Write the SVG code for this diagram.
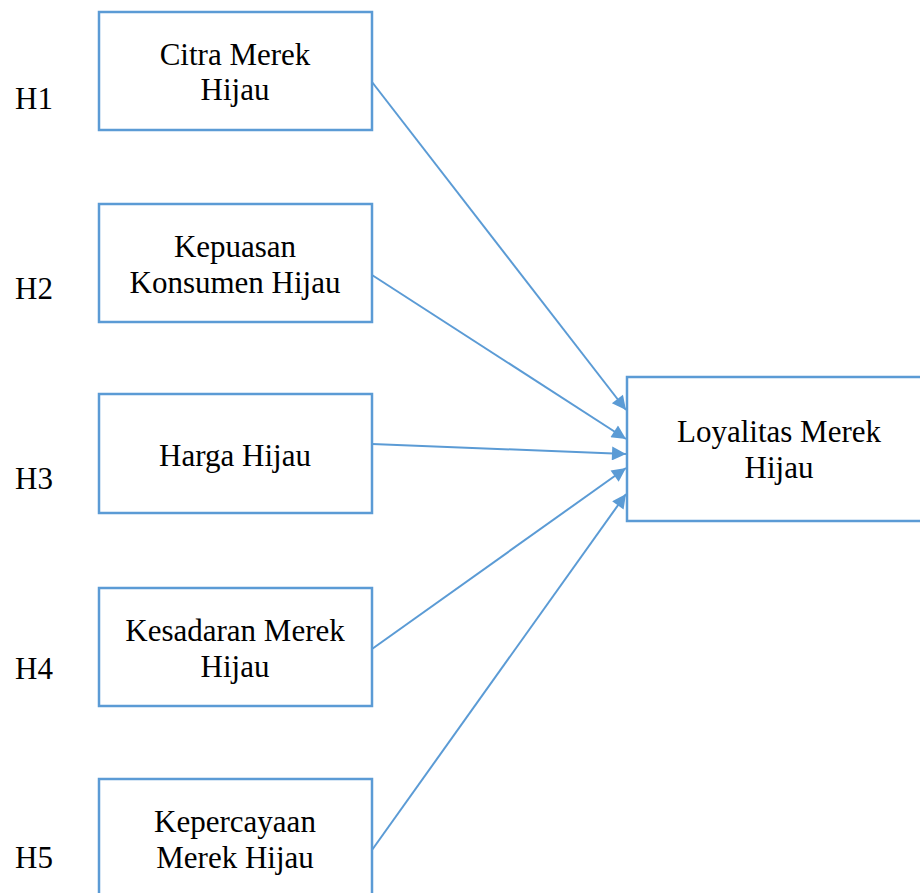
<svg xmlns="http://www.w3.org/2000/svg" width="920" height="893" viewBox="0 0 920 893">
<defs>
<style>
.box{fill:#fff;stroke:#5B9BD5;stroke-width:2.5}
text{font-family:'Liberation Serif','Times New Roman',Times,'DejaVu Serif',serif;font-size:31px;fill:#000}
.t{text-anchor:middle}
.c{stroke:#5B9BD5;stroke-width:2;fill:none;marker-end:url(#ah)}
</style>
<marker id="ah" viewBox="0 0 10 10" refX="10" refY="5" markerWidth="8" markerHeight="7" markerUnits="strokeWidth" orient="auto">
<path d="M0,0 L10,5 L0,10 z" fill="#5B9BD5"/>
</marker>
</defs>
<rect width="920" height="893" fill="#fff"/>
<g id="labels">
<text x="15" y="109">H1</text>
<text x="15" y="299">H2</text>
<text x="15" y="489">H3</text>
<text x="15" y="679">H4</text>
<text x="15" y="868">H5</text>
</g>
<g id="connectors">
<line class="c" x1="372" y1="82" x2="626" y2="410"/>
<line class="c" x1="372" y1="275" x2="626" y2="439"/>
<line class="c" x1="372" y1="444" x2="626" y2="454"/>
<line class="c" x1="372" y1="649" x2="626" y2="468"/>
<line class="c" x1="372" y1="850" x2="626" y2="494"/>
</g>
<g id="citra">
<rect class="box" x="99" y="12" width="273" height="118"/>
<text class="t" x="235" y="65">Citra Merek</text>
<text class="t" x="235" y="100">Hijau</text>
</g>
<g id="kepuasan">
<rect class="box" x="99" y="204" width="273" height="118"/>
<text class="t" x="235" y="257">Kepuasan</text>
<text class="t" x="235" y="293">Konsumen Hijau</text>
</g>
<g id="harga">
<rect class="box" x="99" y="394" width="273" height="119"/>
<text class="t" x="235" y="466">Harga Hijau</text>
</g>
<g id="kesadaran">
<rect class="box" x="99" y="588" width="273" height="118"/>
<text class="t" x="235" y="641">Kesadaran Merek</text>
<text class="t" x="235" y="677">Hijau</text>
</g>
<g id="kepercayaan">
<rect class="box" x="99" y="779" width="273" height="130"/>
<text class="t" x="235" y="832">Kepercayaan</text>
<text class="t" x="235" y="868">Merek Hijau</text>
</g>
<g id="loyalitas">
<rect class="box" x="627" y="377" width="310" height="144"/>
<text class="t" x="779" y="442">Loyalitas Merek</text>
<text class="t" x="779" y="478">Hijau</text>
</g>
</svg>
